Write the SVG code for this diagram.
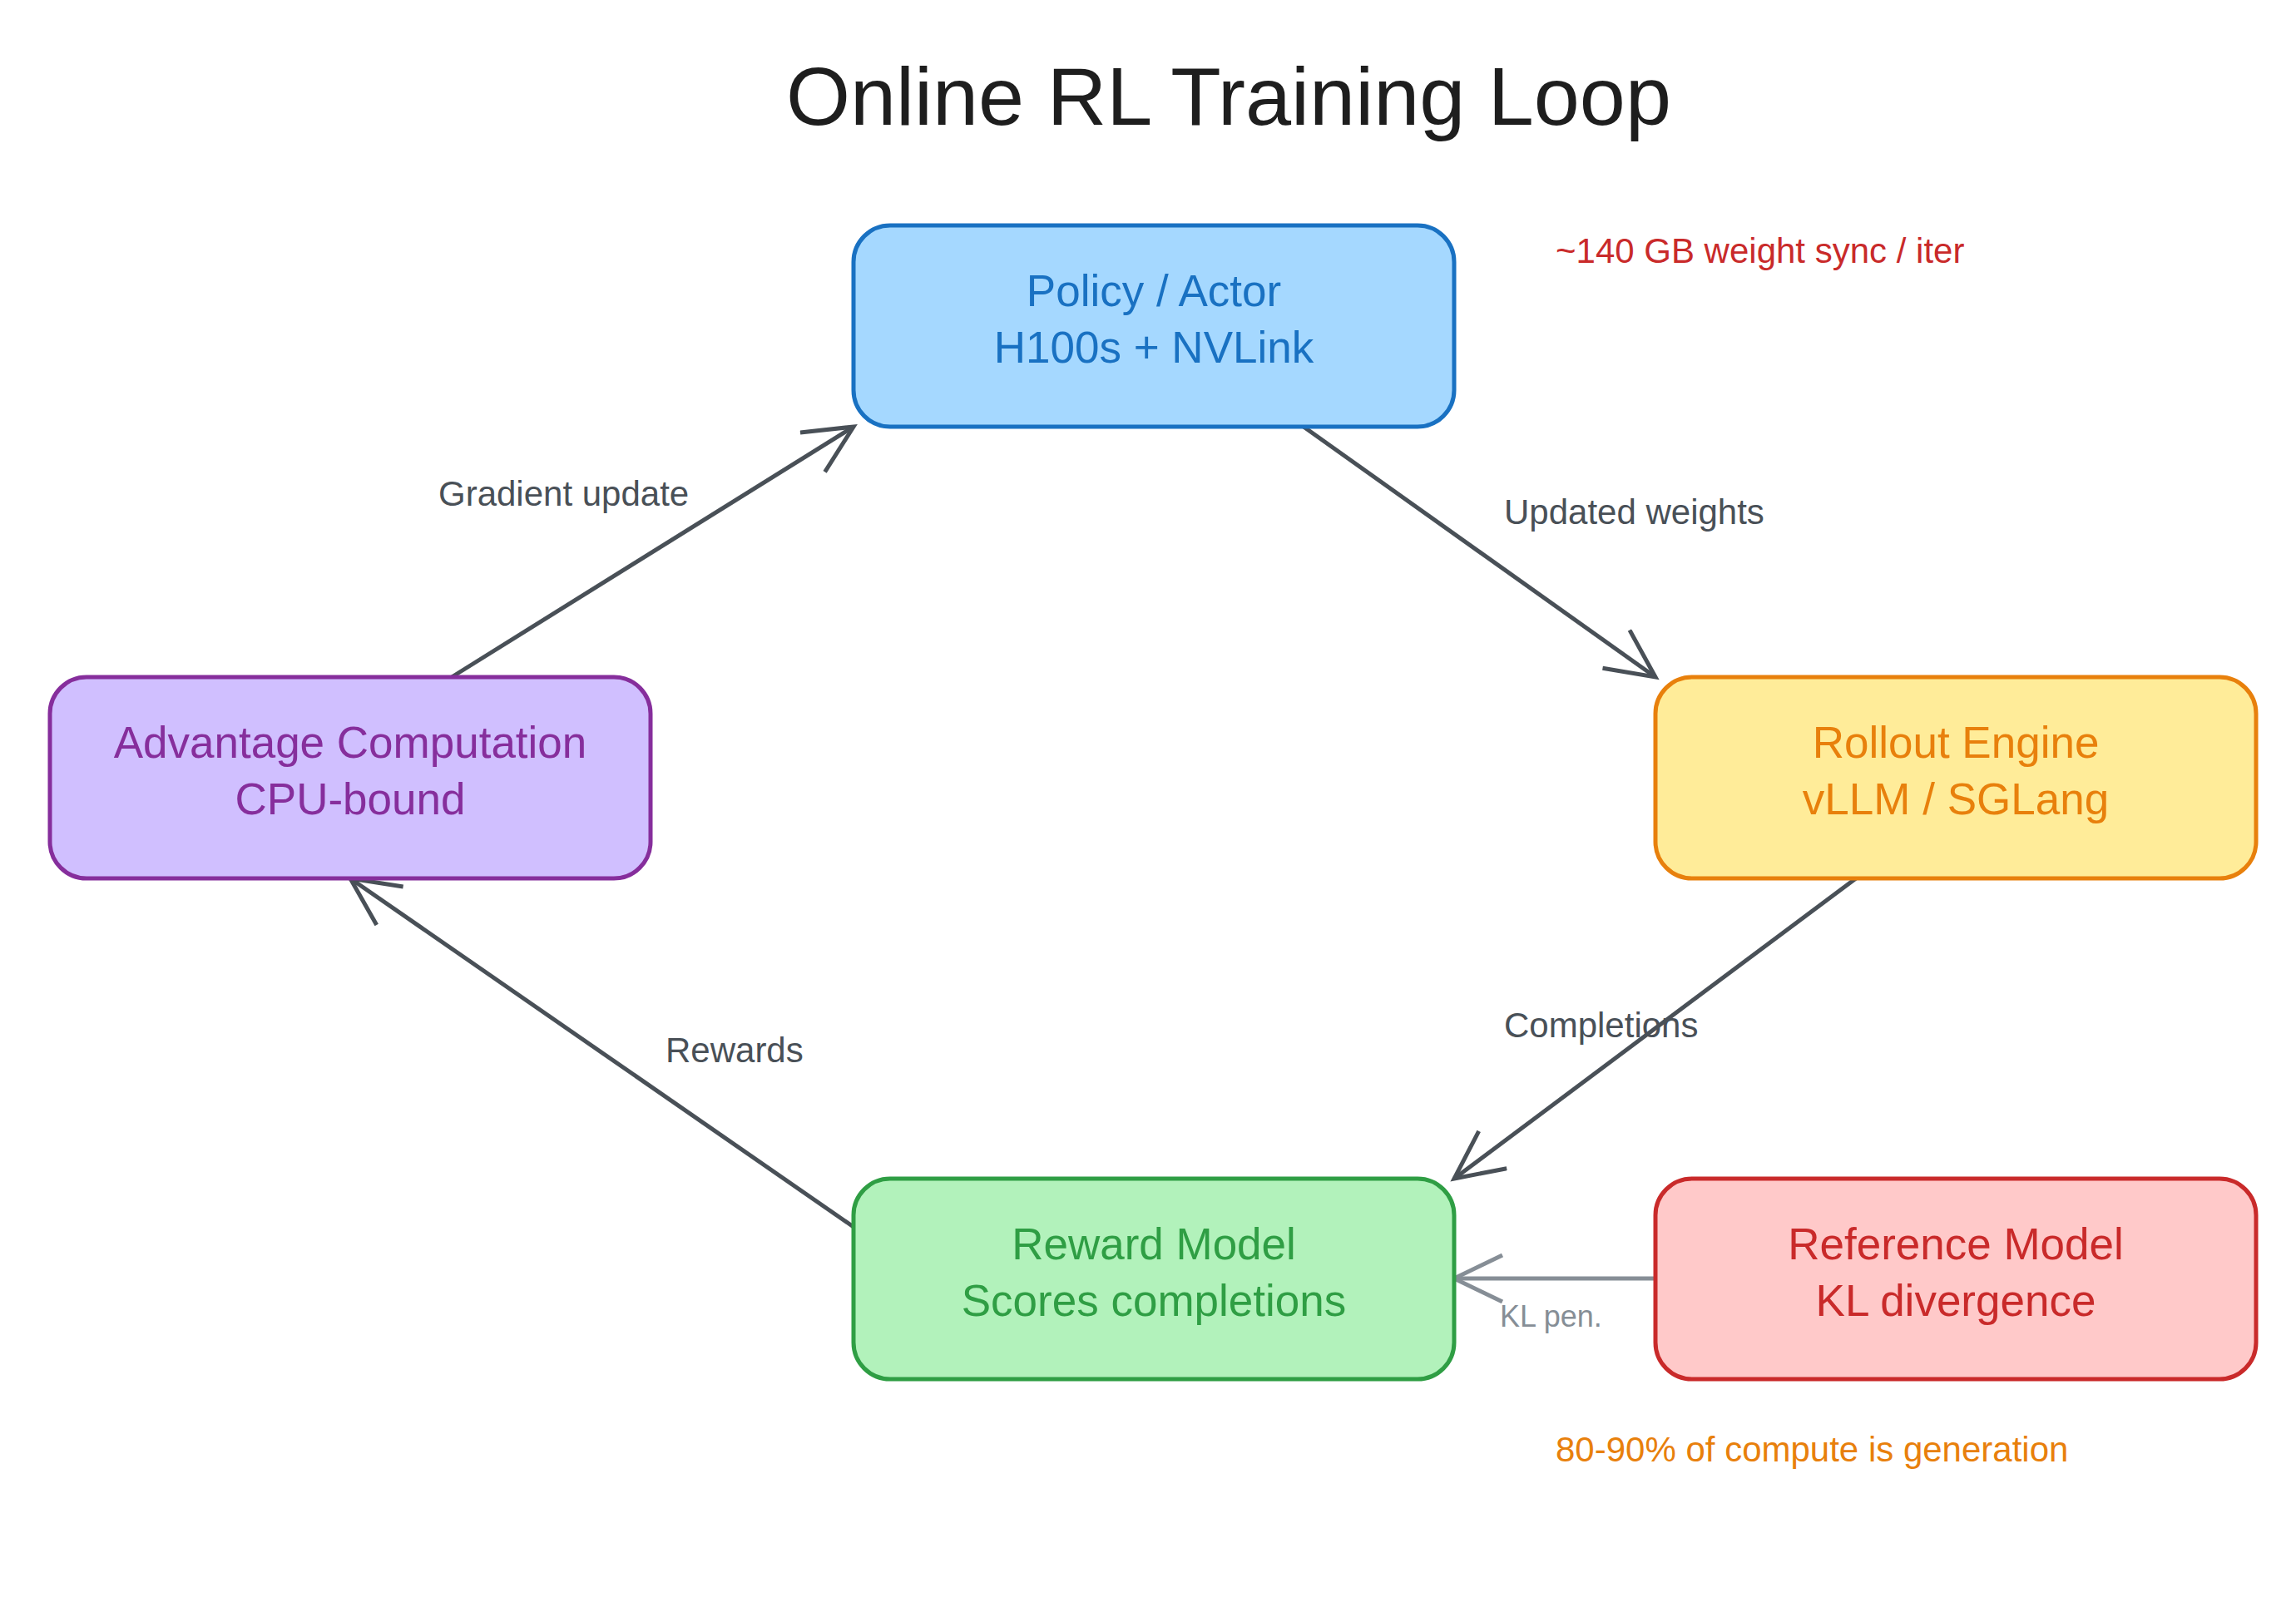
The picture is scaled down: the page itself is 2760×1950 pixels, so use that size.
<svg xmlns="http://www.w3.org/2000/svg" width="2760" height="1950" viewBox="0 0 2760 1950">
<style>
text{font-family:"Liberation Sans",Arial,sans-serif}
.n{font-size:53px;text-anchor:middle;dominant-baseline:central}
.b{stroke-width:5}
.e{stroke:#495057;stroke-width:5;fill:none}
.l{font-size:42px;fill:#495057}
</style>
<defs>
<marker id="a" markerUnits="userSpaceOnUse" markerWidth="80" markerHeight="80" refX="60" refY="30" orient="auto"><path d="M2,2 L60,30 L2,58" fill="none" stroke="#495057" stroke-width="5"/></marker>
<marker id="g" markerUnits="userSpaceOnUse" markerWidth="80" markerHeight="80" refX="60" refY="30" orient="auto"><path d="M2,2 L60,30 L2,58" fill="none" stroke="#868e96" stroke-width="5"/></marker>
</defs>
<rect width="2760" height="1950" fill="#fff"/>
<text x="1477" y="150" font-size="99" text-anchor="middle" fill="#1e1e1e">Online RL Training Loop</text>
<g id="edges">
<line class="e" x1="543" y1="814" x2="1026" y2="513" marker-end="url(#a)"/>
<line class="e" x1="1567" y1="513" x2="1990" y2="814" marker-end="url(#a)"/>
<line class="e" x1="2231" y1="1056" x2="1748" y2="1417" marker-end="url(#a)"/>
<line class="e" x1="1026" y1="1475" x2="421" y2="1056" marker-end="url(#a)"/>
<line x1="1990" y1="1537" x2="1748" y2="1537" stroke="#868e96" stroke-width="5" marker-end="url(#g)"/>
<text class="l" x="527" y="608">Gradient update</text>
<text class="l" x="1808" y="630">Updated weights</text>
<text class="l" x="1808" y="1247">Completions</text>
<text class="l" x="800" y="1277">Rewards</text>
<text x="1803" y="1595" font-size="36" fill="#868e96">KL pen.</text>
</g>
<g id="policy"><rect class="b" x="1026" y="271" width="722" height="242" rx="44" fill="#a5d8ff" stroke="#1971c2"/><text class="n" x="1387" y="349" fill="#1971c2">Policy / Actor</text><text class="n" x="1387" y="417" fill="#1971c2">H100s + NVLink</text></g>
<g id="rollout"><rect class="b" x="1990" y="814" width="722" height="242" rx="44" fill="#ffec99" stroke="#e8800c"/><text class="n" x="2351" y="892" fill="#e8800c">Rollout Engine</text><text class="n" x="2351" y="960" fill="#e8800c">vLLM / SGLang</text></g>
<g id="advantage"><rect class="b" x="60" y="814" width="722" height="242" rx="44" fill="#d0bfff" stroke="#862e9c"/><text class="n" x="421" y="892" fill="#862e9c">Advantage Computation</text><text class="n" x="421" y="960" fill="#862e9c">CPU-bound</text></g>
<g id="reward"><rect class="b" x="1026" y="1417" width="722" height="241" rx="44" fill="#b2f2bb" stroke="#2f9e44"/><text class="n" x="1387" y="1495" fill="#2f9e44">Reward Model</text><text class="n" x="1387" y="1563" fill="#2f9e44">Scores completions</text></g>
<g id="reference"><rect class="b" x="1990" y="1417" width="722" height="241" rx="44" fill="#ffc9c9" stroke="#c92a2a"/><text class="n" x="2351" y="1495" fill="#c92a2a">Reference Model</text><text class="n" x="2351" y="1563" fill="#c92a2a">KL divergence</text></g>
<g id="notes">
<text x="1870" y="316" font-size="42" fill="#c92a2a">~140 GB weight sync / iter</text>
<text x="1870" y="1757" font-size="42" fill="#e8800c">80-90% of compute is generation</text>
</g>
</svg>
